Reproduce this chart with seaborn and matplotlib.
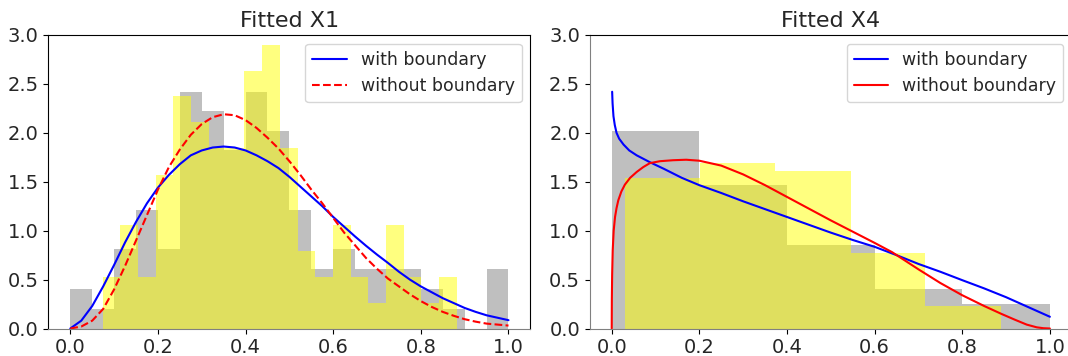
import matplotlib
matplotlib.use("Agg")
import matplotlib.pyplot as plt
import seaborn as sns
import numpy as np

# ---------------- data ----------------
# Panel 1 (Fitted X1): histogram densities
x1_gray_edges = [0.0, 0.05, 0.10, 0.15, 0.20, 0.25, 0.30, 0.35, 0.40, 0.45, 0.50,
                 0.55, 0.60, 0.65, 0.70, 0.75, 0.80, 0.85, 0.90, 0.95, 1.00]
x1_gray_heights = [0.40, 0.20, 0.81, 1.21, 0.81, 2.42, 2.22, 1.82, 2.42, 2.02,
                   1.21, 0.61, 0.81, 0.61, 0.61, 0.61, 0.40, 0.20, 0.00, 0.61]
x1_yellow_edges = [0.074, 0.114, 0.155, 0.195, 0.235, 0.276, 0.316, 0.357, 0.397, 0.438,
                   0.478, 0.519, 0.559, 0.599, 0.640, 0.680, 0.721, 0.761, 0.801, 0.842, 0.882]
x1_yellow_heights = [0.53, 1.06, 0.53, 1.57, 2.38, 2.11, 1.84, 1.84, 2.63, 2.90,
                     1.85, 0.79, 0.53, 1.06, 0.53, 0.26, 1.06, 0.53, 0.26, 0.53]

# Panel 1 fitted curves
x1_with_x = [0.000, 0.025, 0.050, 0.075, 0.100, 0.125, 0.150, 0.175, 0.200, 0.225,
             0.250, 0.275, 0.300, 0.325, 0.350, 0.375, 0.400, 0.425, 0.450, 0.475,
             0.500, 0.525, 0.550, 0.575, 0.600, 0.625, 0.650, 0.675, 0.700, 0.725,
             0.750, 0.775, 0.800, 0.825, 0.850, 0.875, 0.900, 0.925, 0.950, 0.975, 1.000]
x1_with_y = [0.00, 0.08, 0.23, 0.43, 0.65, 0.88, 1.09, 1.28, 1.44, 1.57,
             1.68, 1.77, 1.82, 1.85, 1.86, 1.85, 1.82, 1.77, 1.71, 1.64,
             1.55, 1.45, 1.35, 1.25, 1.14, 1.04, 0.94, 0.845, 0.755, 0.67,
             0.58, 0.50, 0.43, 0.37, 0.31, 0.26, 0.21, 0.17, 0.135, 0.11, 0.085]
x1_without_x = x1_with_x
x1_without_y = [0.00, 0.02, 0.08, 0.20, 0.40, 0.64, 0.90, 1.16, 1.42, 1.65,
                1.83, 1.98, 2.09, 2.16, 2.19, 2.18, 2.13, 2.05, 1.95, 1.84,
                1.71, 1.57, 1.42, 1.28, 1.13, 0.98, 0.85, 0.72, 0.61, 0.51,
                0.43, 0.35, 0.28, 0.22, 0.17, 0.13, 0.095, 0.07, 0.05, 0.04, 0.03]

# Panel 2 (Fitted X4): histogram densities
x4_gray_edges = [0.0, 0.2, 0.4, 0.6, 0.8, 1.0]
x4_gray_heights = [2.02, 1.47, 0.85, 0.40, 0.25]
x4_yellow_edges = [0.030, 0.202, 0.373, 0.545, 0.716, 0.888]
x4_yellow_heights = [1.54, 1.69, 1.61, 0.77, 0.23]

# Panel 2 fitted curves
x4_with_x = [0.001, 0.002, 0.004, 0.007, 0.011, 0.017, 0.027, 0.040, 0.057, 0.087,
             0.120, 0.160, 0.200, 0.250, 0.300, 0.350, 0.400, 0.450, 0.500, 0.550,
             0.600, 0.650, 0.700, 0.750, 0.800, 0.850, 0.900, 0.950, 1.000]
x4_with_y = [2.42, 2.30, 2.17, 2.08, 2.00, 1.94, 1.88, 1.82, 1.77, 1.70,
             1.63, 1.54, 1.465, 1.385, 1.30, 1.22, 1.14, 1.06, 0.98, 0.905,
             0.835, 0.75, 0.66, 0.58, 0.494, 0.41, 0.32, 0.22, 0.12]
x4_without_x = [0.0, 0.0003, 0.001, 0.0023, 0.0045, 0.0076, 0.011, 0.015, 0.022, 0.030,
                0.042, 0.057, 0.072, 0.087, 0.110, 0.140, 0.170, 0.200, 0.250, 0.300,
                0.350, 0.400, 0.450, 0.500, 0.550, 0.600, 0.640, 0.700, 0.750, 0.800,
                0.850, 0.889, 0.920, 0.947, 0.970, 0.985, 1.000]
x4_without_y = [0.0, 0.30, 0.55, 0.80, 1.00, 1.14, 1.23, 1.31, 1.40, 1.47,
                1.54, 1.60, 1.65, 1.69, 1.71, 1.72, 1.725, 1.715, 1.665, 1.575,
                1.465, 1.345, 1.225, 1.105, 0.99, 0.875, 0.78, 0.605, 0.465, 0.34,
                0.23, 0.15, 0.09, 0.04, 0.012, 0.003, 0.0]

xticks = [0.0, 0.2, 0.4, 0.6, 0.8, 1.0]
yticks = [0.0, 0.5, 1.0, 1.5, 2.0, 2.5, 3.0]
titles = ["Fitted X1", "Fitted X4"]
legend_labels = ["with boundary", "without boundary"]

# ---------------- figure ----------------
sns.set_style("white")
plt.rcParams["font.family"] = ["DejaVu Sans"]

fig = plt.figure(figsize=(10.68, 3.56), dpi=100)
ax1 = fig.add_axes([48.4 / 1068, 27.5 / 356, 482 / 1068, 293.5 / 356])
ax2 = fig.add_axes([589.8 / 1068, 27.5 / 356, 482 / 1068, 293.5 / 356])


def centers(edges):
    e = np.asarray(edges)
    return (e[:-1] + e[1:]) / 2


def panel(ax, g_edges, g_h, y_edges, y_h, wx, wy, wox, woy, red_style, title):
    sns.histplot(x=centers(g_edges), weights=g_h, bins=g_edges, color="gray",
                 alpha=0.5, linewidth=0, ax=ax)
    sns.histplot(x=centers(y_edges), weights=y_h, bins=y_edges, color="yellow",
                 alpha=0.5, linewidth=0, ax=ax)
    sns.lineplot(x=wx, y=wy, color="blue", lw=1.5, sort=False, ax=ax,
                 label=legend_labels[0])
    sns.lineplot(x=wox, y=woy, color="red", lw=1.5, linestyle=red_style,
                 sort=False, ax=ax, label=legend_labels[1])
    ax.set_xlim(-0.05, 1.05)
    ax.set_ylim(0, 3.0)
    ax.set_xticks(xticks)
    ax.set_yticks(yticks)
    ax.set_xticklabels([f"{t:.1f}" for t in xticks])
    ax.set_yticklabels([f"{t:.1f}" for t in yticks])
    ax.tick_params(axis="both", labelsize=14, length=3.5, width=0.8, color="black",
                   left=True, bottom=True)
    ax.set_xlabel("")
    ax.set_ylabel("")
    ax.set_title(title, fontsize=16)
    ax.legend(loc="upper right", fontsize=12.5)
    for s in ax.spines.values():
        s.set_color("black")
        s.set_linewidth(0.8)


panel(ax1, x1_gray_edges, x1_gray_heights, x1_yellow_edges, x1_yellow_heights,
      x1_with_x, x1_with_y, x1_without_x, x1_without_y, "--", titles[0])
panel(ax2, x4_gray_edges, x4_gray_heights, x4_yellow_edges, x4_yellow_heights,
      x4_with_x, x4_with_y, x4_without_x, x4_without_y, "-", titles[1])

ax1.spines["bottom"].set_color("#808080")
ax2.spines["bottom"].set_color("#808080")
ax2.spines["left"].set_color("#808080")

fig.savefig("out.png", dpi=100)
